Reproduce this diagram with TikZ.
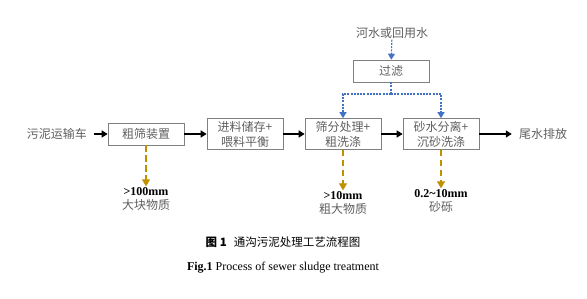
\documentclass[tikz,border=0pt]{standalone}
\usepackage{fontspec}
\setmainfont{Liberation Serif}
\newfontfamily\cjk{Noto Sans CJK SC}
\usetikzlibrary{arrows.meta}
\definecolor{boxgray}{RGB}{128,128,128}
\definecolor{txtgray}{RGB}{95,95,95}
\definecolor{waterblue}{RGB}{68,114,196}
\definecolor{gritgold}{RGB}{191,144,0}
\begin{document}
\begin{tikzpicture}[x=1pt,y=-1pt,line cap=butt,
  procbox/.style={draw=boxgray,line width=0.6pt,minimum width=76pt,inner sep=1pt,
    font=\cjk\fontsize{12}{15}\selectfont,text=txtgray,align=center},
  plain/.style={font=\cjk\fontsize{12}{15}\selectfont,text=txtgray,inner sep=1pt},
  outlabel/.style={font=\fontsize{12}{14}\selectfont,align=center,inner sep=1pt},
  mainflow/.style={line width=1.3pt,-{Triangle[width=7pt,length=6pt]}},
  waterline/.style={waterblue,line width=1.1pt,dash pattern=on 2pt off 1.2pt},
  gritline/.style={gritgold,line width=1.3pt,dash pattern=on 6.5pt off 3.5pt,
    -{Triangle[width=8pt,length=7pt]}}]
  \useasboundingbox (0,0) rectangle (587,299);
  % main line
  \node[plain] (truck) at (57,134) {污泥运输车};
  \node[procbox,minimum height=22pt] (coarse) at (146,134) {粗筛装置};
  \node[procbox,minimum height=31pt] (feed) at (245,134) {进料储存+\\喂料平衡};
  \node[procbox,minimum height=31pt] (sieve) at (343,134) {筛分处理+\\粗洗涤};
  \node[procbox,minimum height=31pt] (sand) at (441,134) {砂水分离+\\沉砂洗涤};
  \node[plain] (tail) at (543,134) {尾水排放};
  \draw[mainflow,shorten <=6pt] (truck) -- (coarse);
  \draw[mainflow] (coarse) -- (feed);
  \draw[mainflow] (feed) -- (sieve);
  \draw[mainflow] (sieve) -- (sand);
  \draw[mainflow,shorten >=6pt] (sand) -- (tail);
  % wash water
  \node[plain] (river) at (392,33) {河水或回用水};
  \node[procbox,minimum height=22pt] (filter) at (391,71) {过滤};
  \coordinate (split) at (391,94);
  \draw[waterline,-{Triangle[width=7pt,length=6pt]}] (river) -- (filter);
  \draw[waterline] (filter) -- (split);
  \draw[waterline,-{Triangle[width=7pt,length=6pt]}] (split) -| (sieve.north);
  \draw[waterline,-{Triangle[width=7pt,length=6pt]}] (split) -| (sand.north);
  % screenings
  \node[outlabel] (bulk) at (146,199) {\textbf{>100mm}\\{\cjk\color{txtgray}大块物质}};
  \node[outlabel] (rough) at (343,203) {\textbf{>10mm}\\{\cjk\color{txtgray}粗大物质}};
  \node[outlabel] (grit) at (441,201) {\textbf{0.2\char`\~10mm}\\{\cjk\color{txtgray}砂砾}};
  \draw[gritline] (coarse) -- (bulk);
  \draw[gritline] (sieve) -- (rough);
  \draw[gritline] (sand) -- (grit);
  % captions
  \node[font=\cjk\fontsize{11.5}{13}\selectfont,inner sep=0pt] (capcn) at (283,242)
    {\textbf{图 1}\hspace{0.6em}通沟污泥处理工艺流程图};
  \node[font=\fontsize{12}{14}\selectfont,inner sep=0pt] (capen) at (283,268)
    {\textbf{Fig.1} Process of sewer sludge treatment};
\end{tikzpicture}
\end{document}
